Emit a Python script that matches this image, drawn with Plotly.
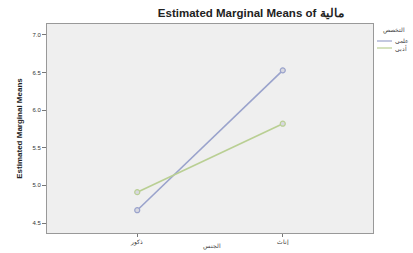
import plotly.graph_objects as go

categories = ["ذكور", "إناث"]
series_names = ["علمي", "أدبي"]
legend_title = "التخصص"
x_title = "الجنس"
series_a = [4.67, 6.53]
series_b = [4.91, 5.82]
tick_vals = [4.5, 5.0, 5.5, 6.0, 6.5, 7.0]
tick_text = ["4.5", "5.0", "5.5", "6.0", "6.5", "7.0"]

colors = ["#9aa3cc", "#b9cf93"]

W, H = 413, 253
L, R, T, B = 47, 40, 24, 20
pw, ph = W - L - R, H - T - B


def px(x):
    return (x - L) / pw


def py(y):
    return (H - B - y) / ph


fig = go.Figure()
for name, vals, c in zip(series_names, [series_a, series_b], colors):
    fig.add_trace(go.Scatter(
        x=categories, y=vals, name=name, mode="lines+markers", showlegend=False,
        line=dict(color=c, width=1.6),
        marker=dict(symbol="circle", size=5, color="#d8d8e0", line=dict(color=c, width=1.2)),
    ))

# legend drawn manually in the right margin
shapes = []
annotations = []
annotations.append(dict(xref="paper", yref="paper", x=px(394), y=py(30), text=legend_title,
                        showarrow=False, xanchor="center", yanchor="middle",
                        font=dict(size=6, color="#444")))
for i, (name, c) in enumerate(zip(series_names, colors)):
    yy = 41 + i * 7
    shapes.append(dict(type="line", xref="paper", yref="paper",
                       x0=px(377), x1=px(392), y0=py(yy), y1=py(yy),
                       line=dict(color=c, width=1.2)))
    annotations.append(dict(xref="paper", yref="paper", x=px(393), y=py(yy), text=name,
                            showarrow=False, xanchor="left", yanchor="middle",
                            font=dict(size=6, color="#444")))
annotations.append(dict(xref="paper", yref="paper", x=px(212), y=py(247), text=x_title,
                        showarrow=False, xanchor="center", yanchor="middle",
                        font=dict(size=6, color="#444")))

fig.update_layout(
    width=W, height=H,
    margin=dict(l=L, r=R, t=T, b=B, autoexpand=False),
    paper_bgcolor="white",
    plot_bgcolor="#efefef",
    font=dict(family="Liberation Sans, Arial", size=7, color="#333"),
    title=dict(text="<b>Estimated Marginal Means of مالية</b>", x=0.607, xanchor="center",
               y=0.95, yanchor="middle", font=dict(size=11.5, color="#222")),
    showlegend=False,
    shapes=shapes,
    annotations=annotations,
)
fig.update_xaxes(
    type="category", range=[-0.62, 1.62],
    showgrid=False, showline=True, linecolor="#999", linewidth=1, mirror=True,
    ticks="outside", ticklen=3, tickcolor="#777", tickfont=dict(size=6),
)
fig.update_yaxes(
    range=[4.367, 7.146], tickvals=tick_vals, ticktext=tick_text,
    showgrid=False, showline=True, linecolor="#999", linewidth=1, mirror=True,
    ticks="outside", ticklen=4, tickcolor="#777", tickfont=dict(size=6),
    title=dict(text="<b>Estimated Marginal Means</b>", font=dict(size=8, color="#222"), standoff=8),
    zeroline=False,
)

fig.write_html("out.html", config={"displayModeBar": False},
               post_script="document.body.style.margin='0';")
